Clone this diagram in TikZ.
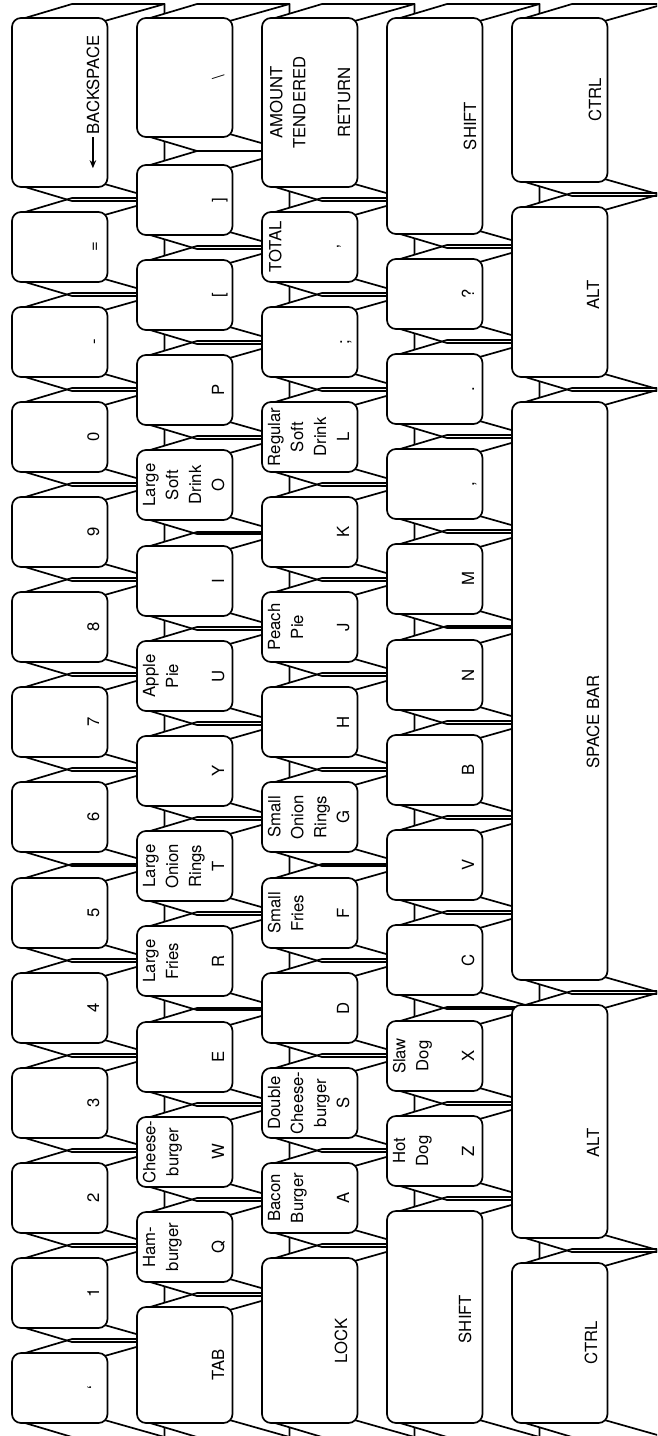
\documentclass[tikz,border=0pt]{standalone}
\usepackage{fontspec}
\setmainfont{TeX Gyre Heros}
\usetikzlibrary{arrows.meta}
\tikzset{
  kline/.style={line width=1.7pt, line join=round, line cap=round},
  keytop/.style={draw, fill=white, line width=1.7pt, rounded corners=9pt, rectangle, inner sep=0pt, outer sep=0pt, minimum width=95.5pt},
  klab/.style={font=\fontsize{16.7}{23}\selectfont, rotate=90, inner sep=0pt, outer sep=0pt},
  kword/.style={klab, align=center, anchor=north},
  kchar/.style={klab, anchor=base},
}
\newcommand\keycol[3]{%
  \foreach \n/\ya/\yb in {#3} {
    \fill[white] (#2+3,\ya+3) -- (#2+60,\ya-14) -- (#2+152.5,\ya-14) -- (#2+152.5,\yb+14) -- (#2+60,\yb+14) -- (#2+3,\yb-3) -- cycle;}
  \foreach \n/\ya/\yb in {#3} {
    \draw[kline] (#2+3,\ya+3) -- (#2+60,\ya-14) -- (#2+152.5,\ya-14) -- (#2+152.5,\yb+14) -- (#2+60,\yb+14) -- (#2+3,\yb-3);
    \draw[kline] (#2+92.5,\ya+3) -- (#2+152.5,\ya-14) (#2+92.5,\yb-3) -- (#2+152.5,\yb+14);}
  \foreach \n/\ya/\yb in {#3} {
    \node[keytop, minimum height={(\yb-\ya)*1pt}] (#1\n) at (#2+47.75,{(\ya+\yb)/2}) {};}
}
\begin{document}
\begin{tikzpicture}[x=1pt,y=-1pt]
\useasboundingbox (0,0) rectangle (657,1436);
\clip (0,0) rectangle (657,1436);
\fill[white] (0,0) rectangle (657,1436);
% column 1
\keycol{c1}{12}{a/18/187, b/212/282, c/307/377, d/402/472, e/497/567, f/592/662, g/687/757, h/782/852, i/878/948, j/973/1043, k/1068/1138, l/1163/1233, m/1258/1328, n/1353/1423}
\node[kchar] (t1a) at (99,85) {BACKSPACE};
\draw[line width=1.5pt, -{Stealth[length=8pt,width=6.5pt]}] ([yshift=-3pt]t1a.west) -- ([yshift=-34pt]t1a.west);
\node[kchar] (t1b) at (99,247) {=};
\node[kchar] (t1c) at (99,342) {-};
\node[kchar] (t1d) at (99,437) {0};
\node[kchar] (t1e) at (99,532) {9};
\node[kchar] (t1f) at (99,627) {8};
\node[kchar] (t1g) at (99,722) {7};
\node[kchar] (t1h) at (99,817) {6};
\node[kchar] (t1i) at (99,913) {5};
\node[kchar] (t1j) at (99,1008) {4};
\node[kchar] (t1k) at (99,1103) {3};
\node[kchar] (t1l) at (99,1198) {2};
\node[kchar] (t1m) at (99,1293) {1};
\node[kchar] (t1n) at (99,1388) {`};
% column 2
\keycol{c2}{137}{a/18/137, b/165/235, c/260/330, d/355/425, e/450/520, f/546/616, g/641/711, h/736/806, i/831/901, j/926/996, k/1022/1092, l/1117/1187, m/1212/1282, n/1307/1423}
\node[kchar] (t2a) at (224,77.5) {\textbackslash};
\node[kchar] (t2b) at (224,200) {]};
\node[kchar] (t2c) at (224,295) {[};
\node[kchar] (t2d) at (224,390) {P};
\node[kchar] (t2e) at (224,485) {O};
\node[kword] (w2e) at (143,485) {Large\\Soft\\Drink};
\node[kchar] (t2f) at (224,581) {I};
\node[kchar] (t2g) at (224,676) {U};
\node[kword] (w2g) at (143,676) {Apple\\Pie};
\node[kchar] (t2h) at (224,771) {Y};
\node[kchar] (t2i) at (224,866) {T};
\node[kword] (w2i) at (143,866) {Large\\Onion\\Rings};
\node[kchar] (t2j) at (224,961) {R};
\node[kword] (w2j) at (143,961) {Large\\Fries};
\node[kchar] (t2k) at (224,1057) {E};
\node[kchar] (t2l) at (224,1152) {W};
\node[kword] (w2l) at (143,1152) {Cheese-\\burger};
\node[kchar] (t2m) at (224,1247) {Q};
\node[kword] (w2m) at (143,1247) {Ham-\\burger};
\node[kchar] (t2n) at (224,1365) {TAB};
% column 3
\keycol{c3}{262}{a/18/187, b/212/282, c/307/377, d/402/472, e/497/567, f/592/662, g/687/757, h/782/852, i/878/948, j/973/1043, k/1068/1138, l/1163/1233, m/1258/1423}
\node[kchar] (t3a) at (350,102.5) {RETURN};
\node[kword] (w3a) at (270,102.5) {AMOUNT\\TENDERED};
\node[kchar] (t3b) at (349,247) {'};
\node[kword] (w3b) at (269,247) {TOTAL};
\node[kchar] (t3c) at (349,342) {;};
\node[kchar] (t3d) at (349,437) {L};
\node[kword] (w3d) at (268,437) {Regular\\Soft\\Drink};
\node[kchar] (t3e) at (349,532) {K};
\node[kchar] (t3f) at (349,627) {J};
\node[kword] (w3f) at (268,627) {Peach\\Pie};
\node[kchar] (t3g) at (349,722) {H};
\node[kchar] (t3h) at (349,817) {G};
\node[kword] (w3h) at (268,817) {Small\\Onion\\Rings};
\node[kchar] (t3i) at (349,913) {F};
\node[kword] (w3i) at (268,913) {Small\\Fries};
\node[kchar] (t3j) at (349,1008) {D};
\node[kchar] (t3k) at (349,1103) {S};
\node[kword] (w3k) at (268,1103) {Double\\Cheese-\\burger};
\node[kchar] (t3l) at (349,1198) {A};
\node[kword] (w3l) at (268,1198) {Bacon\\Burger};
\node[kchar] (t3m) at (347,1341) {LOCK};
% column 4
\keycol{c4}{387}{a/18/234, b/259/329, c/354/424, d/449/519, e/544/614, f/640/710, g/735/805, h/830/900, i/925/995, j/1021/1091, k/1116/1186, l/1211/1423}
\node[kchar] (t4a) at (476,126) {SHIFT};
\node[kchar] (t4b) at (474,294) {?};
\node[kchar] (t4c) at (474,389) {.};
\node[kchar] (t4d) at (474,484) {,};
\node[kchar] (t4e) at (474,579) {M};
\node[kchar] (t4f) at (474,675) {N};
\node[kchar] (t4g) at (474,770) {B};
\node[kchar] (t4h) at (474,865) {V};
\node[kchar] (t4i) at (474,960) {C};
\node[kchar] (t4j) at (474,1056) {X};
\node[kword] (w4j) at (393,1056) {Slaw\\Dog};
\node[kchar] (t4k) at (474,1151) {Z};
\node[kword] (w4k) at (393,1151) {Hot\\Dog};
\node[kchar] (t4l) at (471,1319) {SHIFT};
% column 5
\keycol{c5}{512}{a/18/182, b/207/377, c/402/980, d/1005/1238, e/1263/1423}
\node[kchar] (t5a) at (601,100) {CTRL};
\node[kchar] (t5b) at (599,295) {ALT};
\node[kchar] (t5c) at (599,722) {SPACE BAR};
\node[kchar] (t5d) at (599,1143) {ALT};
\node[kchar] (t5e) at (597,1343) {CTRL};
\end{tikzpicture}
\end{document}
